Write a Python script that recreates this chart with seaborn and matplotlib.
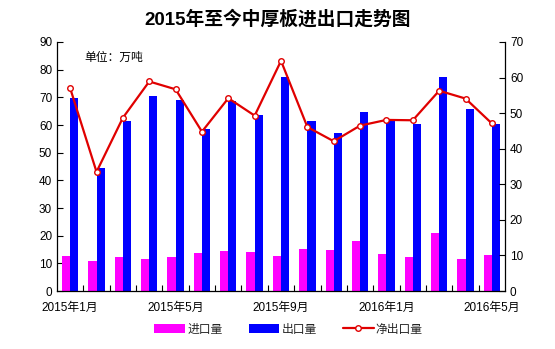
import matplotlib
matplotlib.use("Agg")
import matplotlib.pyplot as plt
from matplotlib.patches import Patch
from matplotlib.lines import Line2D
import seaborn as sns
import pandas as pd

sns.set_theme(style="white")
plt.rcParams["font.family"] = ["Liberation Sans", "Noto Sans CJK SC"]
plt.rcParams["axes.unicode_minus"] = False

# Monthly data, Jan 2015 - May 2016 (unit: 10k tonnes)
months = ["2015-01", "2015-02", "2015-03", "2015-04", "2015-05", "2015-06",
          "2015-07", "2015-08", "2015-09", "2015-10", "2015-11", "2015-12",
          "2016-01", "2016-02", "2016-03", "2016-04", "2016-05"]
imports = [12.7, 10.9, 12.4, 11.6, 12.4, 13.8, 14.5, 14.2, 12.7,
           15.3, 14.9, 18.2, 13.5, 12.4, 21.1, 11.6, 13.1]
exports = [69.7, 44.4, 61.3, 70.5, 69.1, 58.4, 68.7, 63.5, 77.4,
           61.4, 57.0, 64.7, 61.6, 60.4, 77.4, 65.7, 60.2]
net_exports = [57.0, 33.5, 48.7, 58.9, 56.7, 44.8, 54.2, 49.3, 64.7,
               46.1, 42.1, 46.5, 48.1, 48.0, 56.3, 54.1, 47.1]
tick_labels = ["2015年1月", "2015年5月", "2015年9月", "2016年1月", "2016年5月"]
series_names = ["进口量", "出口量", "净出口量"]

df = pd.DataFrame({
    "month": months * 2,
    "value": imports + exports,
    "kind": [series_names[0]] * len(months) + [series_names[1]] * len(months),
})
net_df = pd.DataFrame({"month": months, "net": net_exports})

fig = plt.figure(figsize=(5.55, 3.49), dpi=100)
ax = fig.add_axes([0.1027, 0.166, 0.8073, 0.7137])

sns.barplot(data=df, x="month", y="value", hue="kind",
            palette=["#FF00FF", "#0000FF"], width=0.62, gap=0,
            saturation=1, legend=False, ax=ax, linewidth=0,
            edgecolor="none")

ax2 = ax.twinx()
sns.pointplot(data=net_df, x="month", y="net", color="#E00000",
              markers="o", linestyles="-", ax=ax2,
              markerfacecolor="white", markeredgecolor="#E00000",
              markersize=4, linewidth=1.6, markeredgewidth=1.0)

ax.set_xlim(-0.5, len(months) - 0.5)
ax.set_ylim(0, 90)
ax2.set_ylim(0, 70)
ax.set_yticks(range(0, 91, 10))
ax2.set_yticks(range(0, 71, 10))

ax.set_xticks([0, 4, 8, 12, 16])
ax.set_xticklabels(tick_labels)
ax.set_xticks([i + 0.5 for i in range(len(months) - 1)], minor=True)
ax.tick_params(axis="x", which="major", length=0, labelsize=8.5, pad=8,
               colors="black")
ax.tick_params(axis="x", which="minor", length=4, direction="in",
               width=0.8, color="black", bottom=True)
ax.tick_params(axis="y", length=4, direction="in", width=0.8,
               labelsize=8.5, colors="black", left=True)
ax2.tick_params(axis="y", length=4, direction="in", width=0.8,
                labelsize=8.5, colors="black", right=True)

for a in (ax, ax2):
    a.set_xlabel("")
    a.set_ylabel("")
    a.spines["top"].set_visible(False)
    for s in ("left", "right", "bottom"):
        a.spines[s].set_color("black")
        a.spines[s].set_linewidth(0.9)
ax.spines["right"].set_visible(False)
ax2.spines["left"].set_visible(False)
ax2.spines["bottom"].set_visible(False)

fig.text(0.5, 0.945, "2015年至今中厚板进出口走势图", ha="center", va="center",
         fontsize=13.5, fontweight="bold", color="black")
ax.text(0.06, 0.935, "单位：万吨", transform=ax.transAxes, ha="left",
        va="center", fontsize=8.5, color="black")

handles = [
    Patch(facecolor="#FF00FF", edgecolor="none"),
    Patch(facecolor="#0000FF", edgecolor="none"),
    Line2D([], [], color="#E00000", linewidth=1.6, marker="o",
           markersize=4, markerfacecolor="white", markeredgecolor="#E00000"),
]
fig.legend(handles, series_names, loc="center", bbox_to_anchor=(0.52, 0.055),
           ncol=3, frameon=False, fontsize=8.5, handlelength=2.6,
           handleheight=0.8, columnspacing=2.2, handletextpad=0.2)

fig.savefig("out.png", dpi=100, facecolor="white")
